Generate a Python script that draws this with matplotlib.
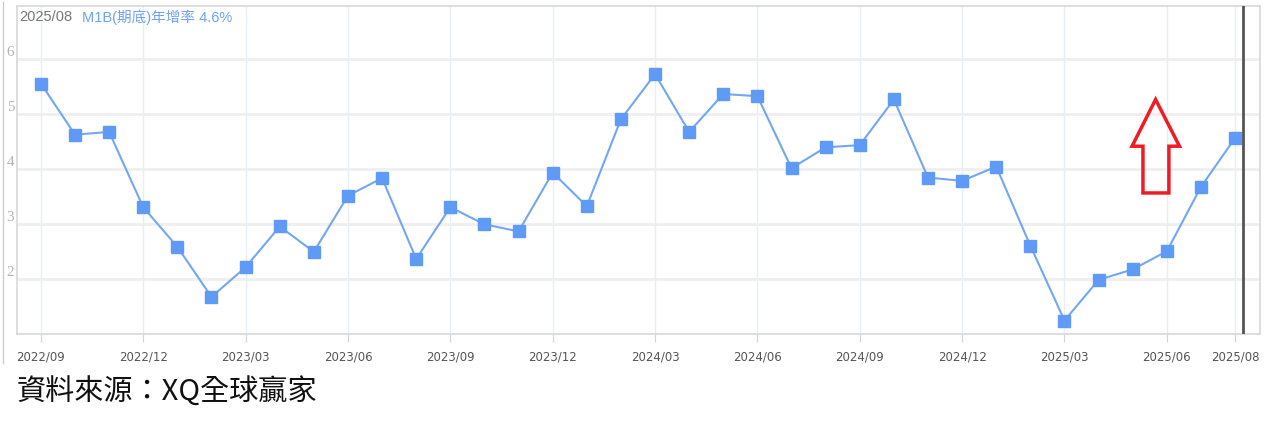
import matplotlib.pyplot as plt
from matplotlib.patches import Polygon
from matplotlib.lines import Line2D

# M1B(期底)年增率, 2022/09 ~ 2025/08
months = [
    "2022/09", "2022/10", "2022/11", "2022/12",
    "2023/01", "2023/02", "2023/03", "2023/04", "2023/05", "2023/06",
    "2023/07", "2023/08", "2023/09", "2023/10", "2023/11", "2023/12",
    "2024/01", "2024/02", "2024/03", "2024/04", "2024/05", "2024/06",
    "2024/07", "2024/08", "2024/09", "2024/10", "2024/11", "2024/12",
    "2025/01", "2025/02", "2025/03", "2025/04", "2025/05", "2025/06",
    "2025/07", "2025/08",
]
m1b_yoy = [
    5.56, 4.63, 4.68, 3.31,
    2.59, 1.68, 2.22, 2.96, 2.50, 3.52,
    3.84, 2.37, 3.31, 3.00, 2.87, 3.94,
    3.33, 4.91, 5.73, 4.68, 5.37, 5.33,
    4.02, 4.40, 4.44, 5.27, 3.85, 3.79,
    4.05, 2.61, 1.25, 1.99, 2.18, 2.51,
    3.68, 4.57,
]
tick_labels = ["2022/09", "2022/12", "2023/03", "2023/06", "2023/09", "2023/12",
               "2024/03", "2024/06", "2024/09", "2024/12", "2025/03", "2025/06",
               "2025/08"]
y_ticks = [2, 3, 4, 5, 6]

W, H = 1269, 429
fig = plt.figure(figsize=(W / 100, H / 100), dpi=100)
ax = fig.add_axes([17 / W, 1 - 334 / H, (1260 - 17) / W, (334 - 6) / H])

x = list(range(len(months)))
ax.plot(x, m1b_yoy, color="#74a6f4", lw=1.5, marker="s", ms=8,
        mfc="#5f9bf6", mec="#5f9bf6", zorder=3)

ax.set_xlim(-0.70, 35.73)
ax.set_ylim(1.005, 6.97)

tick_pos = [months.index(t) for t in tick_labels]
ax.set_xticks(tick_pos)
ax.set_xticklabels(tick_labels, fontsize=8.5, color="#555555")
ax.set_yticks(y_ticks)
ax.set_yticklabels([str(v) for v in y_ticks], fontsize=11, color="#b5b5b5",
                   family="Liberation Serif")
for lab in ax.get_yticklabels():
    lab.set_verticalalignment("bottom")
ax.tick_params(axis="x", length=6, color="#d5d5d5", pad=6)
ax.tick_params(axis="y", length=0, pad=2)

ax.grid(axis="y", color="#efefef", lw=2)
ax.grid(axis="x", color="#e4f0f6", lw=1)
ax.set_axisbelow(True)
for s in ax.spines.values():
    s.set_color("#d8d8d8")
    s.set_linewidth(1.2)

# cursor line next to the latest point
ax.axvline(len(months) - 1 + 0.22, color="#555555", lw=2, zorder=4)

# red outline arrow
arrow = [(32.67, 5.27), (33.37, 4.42), (33.06, 4.42), (33.06, 3.57),
         (32.30, 3.57), (32.30, 4.42), (31.98, 4.42)]
ax.add_patch(Polygon(arrow, closed=True, fill=False, ec="#ee1c25", lw=2.5,
                     joinstyle="miter", zorder=5))

# header text
fig.text(19 / W, 1 - 17 / H, "2025/08", fontsize=10.5, color="#777777",
         va="center", ha="left", family="Liberation Sans")
fig.text(82 / W, 1 - 17 / H, "M1B(期底)年增率 4.6%", fontsize=10.5,
         color="#6fa3f2", va="center", ha="left",
         family=["Liberation Sans", "Noto Sans CJK TC"])

# outer frame line on the left
fig.add_artist(Line2D([3 / W, 3 / W], [1 - 2 / H, 1 - 363 / H],
                      color="#cccccc", lw=1, transform=fig.transFigure))

fig.text(17 / W, 1 - 393 / H, "資料來源：XQ全球贏家", fontsize=21,
         color="#111111", va="center", ha="left", weight="medium",
         family=["Noto Sans CJK TC", "DejaVu Sans"])

fig.savefig("out.png", dpi=100)
